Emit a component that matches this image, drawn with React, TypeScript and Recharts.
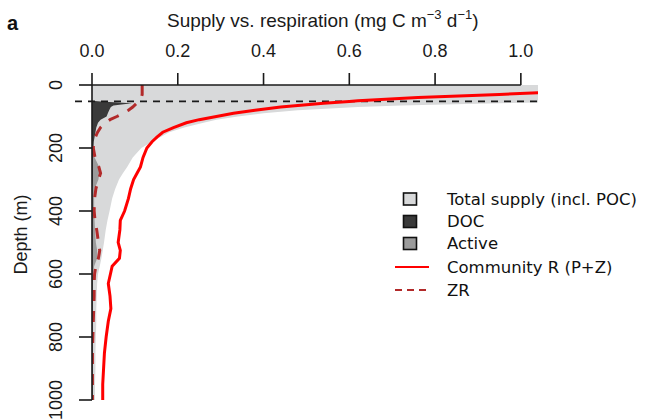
import React from 'react';
import { ComposedChart, Area, Line, XAxis, YAxis, ReferenceLine, Legend } from 'recharts';

// depth levels (m) shared by every profile
const depths = [0, 10, 20, 30, 40, 50, 52, 58, 65, 70, 80, 90, 100, 110, 120, 135, 150, 165, 180, 200, 230, 260, 280, 300, 330, 360, 400, 430, 460, 500, 525, 550, 575, 600, 630, 670, 710, 750, 800, 850, 900, 950, 1000];

// mg C m-3 d-1
const totalSupply = [1.2, 1.2, 1.2, 1.2, 1.2, 1.2, 1.2, 0.95, 0.72, 0.62, 0.48, 0.4, 0.34, 0.29, 0.26, 0.215, 0.18, 0.16, 0.14, 0.115, 0.095, 0.082, 0.072, 0.063, 0.054, 0.047, 0.041, 0.036, 0.032, 0.028, 0.025, 0.022, 0.018, 0.014, 0.012, 0.011, 0.01, 0.01, 0.009, 0.008, 0.008, 0.007, 0.007];
const docSupply = [0, 0, 0, 0, 0, 0, 0.02, 0.093, 0.05, 0.044, 0.04, 0.037, 0.034, 0.02, 0.014, 0.01, 0.008, 0.006, 0.004, 0.003, 0.002, 0.002, 0.002, 0.002, 0.001, 0.001, 0.001, 0.001, 0.001, 0.001, 0.001, 0.001, 0.001, 0.001, 0.001, 0.001, 0.001, 0.001, 0.001, 0.001, 0.001, 0.001, 0.001];
const activeSupply = [0, 0, 0, 0, 0, 0, 0.003, 0.004, 0.004, 0.004, 0.004, 0.004, 0.004, 0.004, 0.004, 0.004, 0.004, 0.004, 0.004, 0.004, 0.006, 0.017, 0.017, 0.015, 0.006, 0.005, 0.005, 0.006, 0.007, 0.009, 0.012, 0.012, 0.005, 0.003, 0.002, 0.002, 0.002, 0.002, 0.002, 0.002, 0.002, 0.002, 0.002];
const communityR = [1.6, 1.35, 1.12, 0.95, 0.76, 0.62, 0.6, 0.54, 0.48, 0.44, 0.38, 0.33, 0.29, 0.25, 0.22, 0.19, 0.165, 0.152, 0.14, 0.128, 0.119, 0.113, 0.105, 0.097, 0.09, 0.085, 0.076, 0.066, 0.065, 0.061, 0.066, 0.064, 0.047, 0.043, 0.038, 0.042, 0.044, 0.038, 0.033, 0.029, 0.027, 0.025, 0.025];
const zooR = [0.117, 0.117, 0.117, 0.117, 0.115, 0.11, 0.108, 0.104, 0.099, 0.095, 0.085, 0.072, 0.058, 0.042, 0.031, 0.02, 0.013, 0.008, 0.005, 0.003, 0.007, 0.016, 0.02, 0.015, 0.009, 0.006, 0.005, 0.007, 0.011, 0.015, 0.018, 0.015, 0.009, 0.006, 0.005, 0.005, 0.004, 0.003, 0.002, 0.001, 0.001, 0.001, 0.001];

const euphoticDepth = 52;
const xTicks = [0, 0.2, 0.4, 0.6, 0.8, 1.0];
const depthTicks = [0, 200, 400, 600, 800, 1000];
const legendLabels = ['Total supply (incl. POC)', 'DOC', 'Active', 'Community R (P+Z)', 'ZR'];

const data = depths.map((depth, i) => ({
  depth,
  total: totalSupply[i],
  doc: docSupply[i],
  active: activeSupply[i],
  communityR: communityR[i],
  zr: zooR[i],
}));

const AXIS_FONT = '"Liberation Sans", Arial, sans-serif';
const LEGEND_FONT = '"DejaVu Sans", sans-serif';
const INK = '#1a1a1a';
const GREY_TOTAL = '#d8d9da';
const GREY_DOC = '#3a3a3a';
const GREY_ACTIVE = '#9b9b9b';
const RED = '#ff0000';
const ZR_RED = '#b22a2a';

const DepthTick = (props: any) => {
  const { x, y, payload } = props;
  return (
    <text x={x} y={y} transform={`rotate(-90 ${x} ${y})`} textAnchor="middle" fontSize={18} fill={INK} fontFamily={AXIS_FONT}>
      {payload.value}
    </text>
  );
};

const DepthLabel = (props: any) => {
  const vb = props.viewBox || { x: 0, y: 85, width: 92, height: 315 };
  const x = vb.x + 27;
  const y = vb.y + vb.height / 2 - 8;
  return (
    <text x={x} y={y} transform={`rotate(-90 ${x} ${y})`} textAnchor="middle" fontSize={18} fill={INK} fontFamily={AXIS_FONT}>
      Depth (m)
    </text>
  );
};

const LegendBox = () => {
  const rows = [19, 41.5, 63.5, 87, 110];
  const fills = [GREY_TOTAL, GREY_DOC, GREY_ACTIVE];
  return (
    <svg width={256} height={122}>
      {legendLabels.map((label, i) => (
        <g key={label}>
          {i < 3 && (
            <rect x={13.5} y={rows[i] - 6} width={13} height={12} fill={fills[i]} stroke="#111" strokeWidth={1.6} />
          )}
          {i === 3 && <line x1={5} x2={39} y1={rows[i]} y2={rows[i]} stroke={RED} strokeWidth={2} />}
          {i === 4 && <line x1={5} x2={39} y1={rows[i]} y2={rows[i]} stroke={ZR_RED} strokeWidth={2} strokeDasharray="7 5" />}
          <text x={57} y={rows[i]} dominantBaseline="central" fontSize={16.5} fill="#111" fontFamily={LEGEND_FONT}>
            {label}
          </text>
        </g>
      ))}
    </svg>
  );
};

export default function App() {
  return (
    <div style={{ position: 'absolute', left: 0, top: 0, width: 646, height: 420, background: '#fff' }}>
      <ComposedChart
        layout="vertical"
        width={646}
        height={420}
        data={data}
        margin={{ top: 40, right: 108, bottom: 20, left: 0 }}
      >
        <XAxis
          type="number"
          orientation="top"
          domain={[0, 1.04]}
          allowDataOverflow
          ticks={xTicks}
          tickFormatter={(v: number) => v.toFixed(1)}
          height={45}
          tickSize={12}
          tickMargin={16}
          axisLine={false}
          tickLine={{ stroke: INK, strokeWidth: 1.6 }}
          tick={{ fontSize: 18, fill: INK, fontFamily: AXIS_FONT }}
        />
        <YAxis
          type="number"
          dataKey="depth"
          domain={[0, 1000]}
          ticks={depthTicks}
          width={92}
          tickSize={13}
          tickMargin={17}
          axisLine={{ stroke: INK, strokeWidth: 1.6 }}
          tickLine={{ stroke: INK, strokeWidth: 1.6 }}
          tick={<DepthTick />}
          label={(p: any) => <DepthLabel {...p} />}
        />
        <Area dataKey="total" type="linear" fill={GREY_TOTAL} fillOpacity={1} stroke="none" isAnimationActive={false} />
        <Area dataKey="active" type="linear" fill={GREY_ACTIVE} fillOpacity={1} stroke="none" isAnimationActive={false} />
        <Area dataKey="doc" type="linear" fill={GREY_DOC} fillOpacity={1} stroke="none" isAnimationActive={false} />
        <ReferenceLine
          y={euphoticDepth}
          shape={(p: any) => (
            <line x1={p.x1 - 17} x2={p.x2} y1={p.y1} y2={p.y2} stroke={INK} strokeWidth={1.8} strokeDasharray="7 6" />
          )}
        />
        <Line dataKey="zr" type="linear" stroke={ZR_RED} strokeWidth={3} strokeDasharray="11 10" dot={false} isAnimationActive={false} />
        <Line dataKey="communityR" type="linear" stroke={RED} strokeWidth={3} dot={false} isAnimationActive={false} />
        <ReferenceLine segment={[{ x: 0, y: 0 }, { x: 1, y: 0 }]} stroke={INK} strokeWidth={1.6} />
        <Legend
          layout="vertical"
          align="center"
          verticalAlign="middle"
          wrapperStyle={{ left: 390, top: 180, width: 256, height: 122 }}
          content={() => <LegendBox />}
        />
      </ComposedChart>
      <svg width={646} height={420} style={{ position: 'absolute', left: 0, top: 0, pointerEvents: 'none' }}>
        <text x={7} y={30} fontSize={20} fontWeight="bold" fill="#111" fontFamily={AXIS_FONT}>a</text>
        <text x={167} y={27} fontSize={19} fill={INK} fontFamily={AXIS_FONT}>
          Supply vs. respiration (mg C m
          <tspan dy={-8} fontSize={13}>−3</tspan>
          <tspan dy={8}> d</tspan>
          <tspan dy={-8} fontSize={13}>−1</tspan>
          <tspan dy={8}>)</tspan>
        </text>
      </svg>
    </div>
  );
}
